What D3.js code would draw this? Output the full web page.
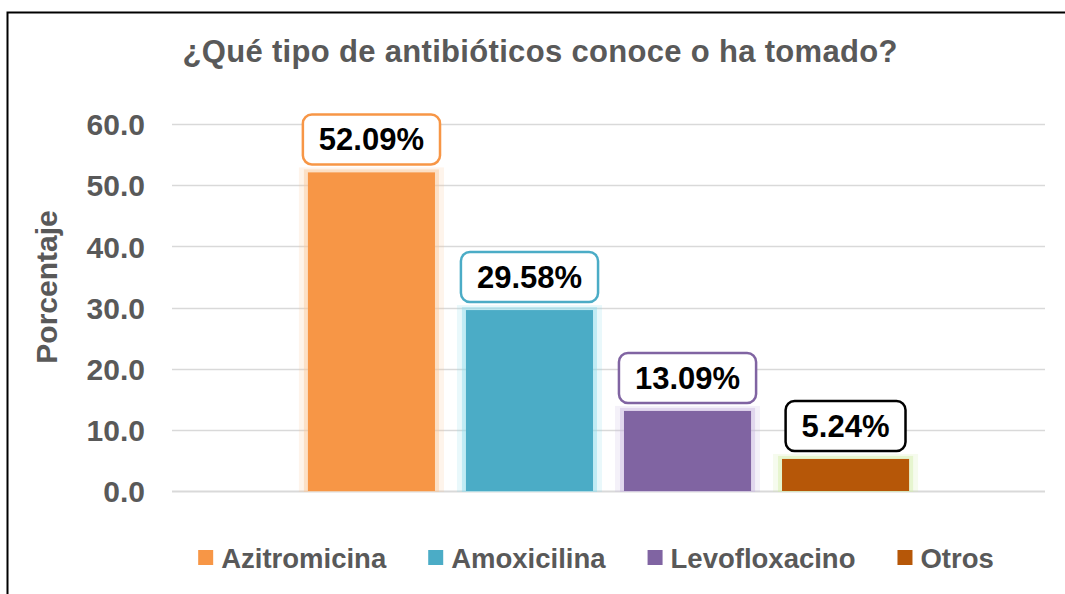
<!DOCTYPE html>
<html lang="es">
<head>
    <meta charset="UTF-8">
    <title>Antibióticos</title>
    <style>
        body { margin: 0; background: #fff; }
        text { font-family: "Liberation Sans", Arial, sans-serif; font-weight: bold; }
    </style>
</head>
<body>
<div id="chart"></div>
<script src="https://d3js.org/d3.v7.min.js"></script>
<script>
    // Data
    const categories = ["Azitromicina", "Amoxicilina", "Levofloxacino", "Otros"];
    const values = [52.09, 29.58, 13.09, 5.24];
    const colors = ["#F79646", "#4BACC6", "#8064A2", "#B65708"];
    const glowColors = ["#FBC89A", "#8FDCEB", "#C9B8DF", "#D2EDA8"];
    const yTicks = [0, 10, 20, 30, 40, 50, 60];

    const W = 1065, H = 594;
    const plot = {left: 172, right: 1045, top: 124, bottom: 491};

    const svg = d3.select("#chart").append("svg")
        .attr("width", W)
        .attr("height", H);

    // outer frame (right/bottom run off the picture)
    svg.append("rect")
        .attr("x", 7.5).attr("y", 12.5)
        .attr("width", 1100).attr("height", 700)
        .attr("fill", "#fff")
        .attr("stroke", "#000")
        .attr("stroke-width", 2);

    // scales
    const x = d3.scaleBand().domain(categories)
        .range([plot.left, plot.right])
        .paddingInner(0.196)
        .paddingOuter(0.86);
    const y = d3.scaleLinear().domain([0, 60]).range([plot.bottom, plot.top]);

    // gridlines
    svg.append("g").selectAll("line")
        .data(yTicks)
        .enter().append("line")
        .attr("x1", plot.left).attr("x2", plot.right)
        .attr("y1", d => Math.round(y(d)) + 0.5)
        .attr("y2", d => Math.round(y(d)) + 0.5)
        .attr("stroke", "#D9D9D9")
        .attr("stroke-width", d => d === 0 ? 2 : 1.3);

    // y axis labels
    const yAxis = svg.append("g")
        .attr("transform", "translate(152,0)")
        .call(d3.axisLeft(y).tickValues(yTicks).tickFormat(d3.format(".1f")).tickSize(0).tickPadding(7));
    yAxis.select(".domain").remove();
    yAxis.selectAll("text")
        .attr("fill", "#595959")
        .style("font-size", "30px")
        .style("font-family", "'Liberation Sans', Arial, sans-serif")
        .style("font-weight", "bold")
        .attr("dy", "0.36em");

    svg.append("text")
        .attr("transform", "translate(57,287) rotate(-90)")
        .attr("text-anchor", "middle")
        .attr("fill", "#595959")
        .style("font-size", "30px")
        .text("Porcentaje");

    // glow behind bars
    const bars = svg.append("g");
    categories.forEach((c, i) => {
        const bx = x(c), bw = x.bandwidth(), by = y(values[i]);
        bars.append("rect")
            .attr("x", bx - 9).attr("y", by - 5)
            .attr("width", bw + 18).attr("height", plot.bottom - by + 6)
            .attr("fill", glowColors[i]).attr("opacity", 0.2);
        bars.append("rect")
            .attr("x", bx - 4).attr("y", by - 3)
            .attr("width", bw + 8).attr("height", plot.bottom - by + 4)
            .attr("fill", glowColors[i]).attr("opacity", 0.45);
        bars.append("rect")
            .attr("x", bx).attr("y", by)
            .attr("width", bw).attr("height", plot.bottom - by)
            .attr("fill", colors[i]);
    });

    // value labels in rounded boxes
    const fmt = v => v.toFixed(2) + "%";
    const labels = svg.append("g");
    categories.forEach((c, i) => {
        const cx = x(c) + x.bandwidth() / 2;
        const by = y(values[i]);
        const g = labels.append("g");
        const t = g.append("text")
            .attr("x", cx).attr("y", by - 22)
            .attr("text-anchor", "middle")
            .attr("fill", "#000")
            .style("font-size", "31px")
            .text(fmt(values[i]));
        const tw = t.node().getComputedTextLength();
        g.insert("rect", "text")
            .attr("x", cx - tw / 2 - 16).attr("y", by - 58)
            .attr("width", tw + 32).attr("height", 50)
            .attr("rx", 9).attr("ry", 9)
            .attr("fill", "#fff")
            .attr("stroke", i === 3 ? "#000" : colors[i])
            .attr("stroke-width", 2.5);
    });

    // title
    svg.append("text")
        .attr("x", 540).attr("y", 62)
        .attr("text-anchor", "middle")
        .attr("fill", "#595959")
        .style("font-size", "31px")
        .attr("textLength", 715)
        .attr("lengthAdjust", "spacing")
        .text("¿Qué tipo de antibióticos conoce o ha tomado?");

    // legend, laid out from text widths and centred
    const legend = svg.append("g");
    const items = categories.map((c, i) => {
        const g = legend.append("g");
        g.append("rect").attr("width", 15).attr("height", 15).attr("y", -8).attr("fill", colors[i]);
        const t = g.append("text").attr("x", 23).attr("dy", "0.36em")
            .attr("fill", "#595959").style("font-size", "27.5px").text(c);
        return {g: g, w: 23 + t.node().getComputedTextLength()};
    });
    const gap = 42;
    const total = d3.sum(items, d => d.w) + gap * (items.length - 1);
    let lx = 596 - total / 2;
    items.forEach(d => {
        d.g.attr("transform", "translate(" + lx + ",558)");
        lx += d.w + gap;
    });
</script>
</body>
</html>
